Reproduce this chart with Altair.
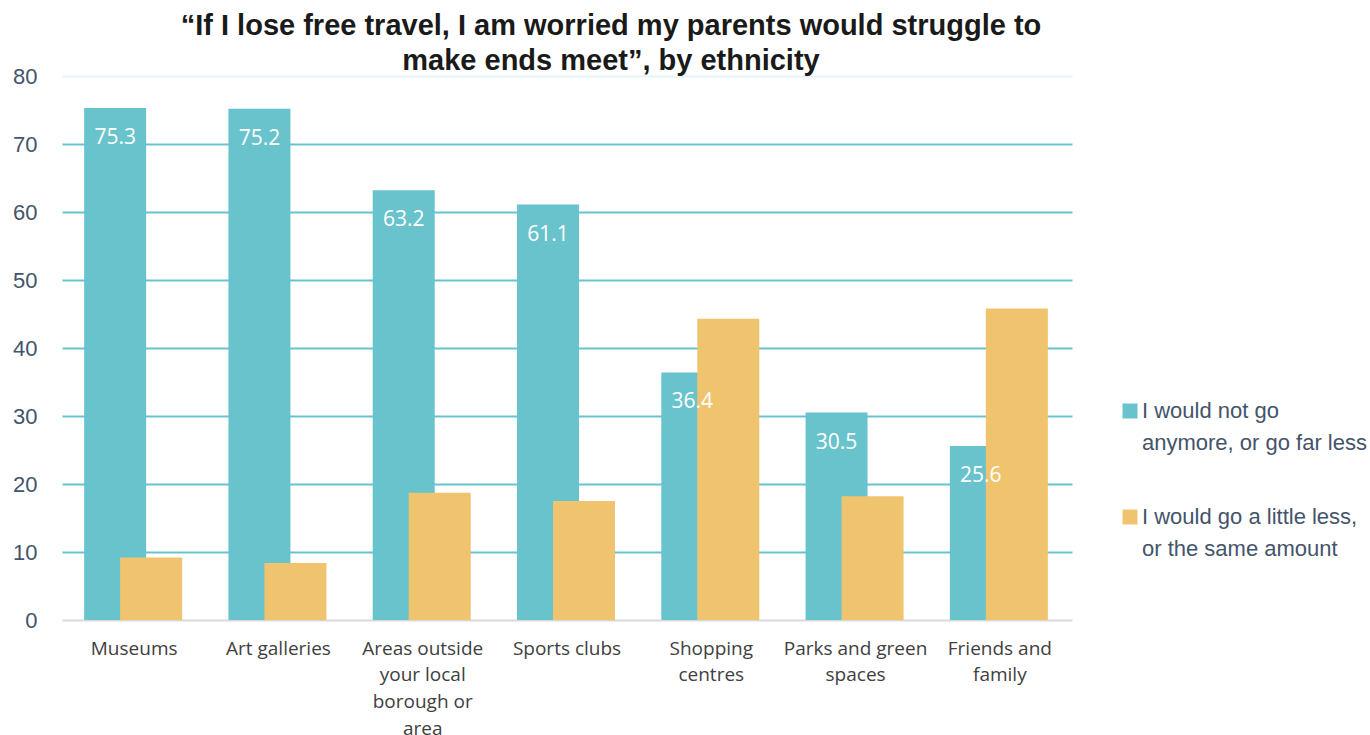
import json
import altair as alt
import pandas as pd

categories = ["Museums", "Art galleries", "Areas outside your local borough or area",
              "Sports clubs", "Shopping centres", "Parks and green spaces", "Friends and family"]
cat_lines = [["Museums"], ["Art galleries"], ["Areas outside", "your local", "borough or", "area"],
             ["Sports clubs"], ["Shopping", "centres"], ["Parks and green", "spaces"], ["Friends and", "family"]]
series = ["I would not go anymore, or go far less", "I would go a little less, or the same amount"]
series_lines = [["I would not go", "anymore, or go far less"], ["I would go a little less,", "or the same amount"]]
not_go = [75.3, 75.2, 63.2, 61.1, 36.4, 30.5, 25.6]
little_less = [9.2, 8.4, 18.7, 17.5, 44.3, 18.2, 45.8]
y_ticks = [0, 10, 20, 30, 40, 50, 60, 70, 80]

rows = []
for c, a, b in zip(categories, not_go, little_less):
    rows.append({"category": c, "series": series[0], "value": a})
    rows.append({"category": c, "series": series[1], "value": b})
df = pd.DataFrame(rows)

teal = "#69c3cc"
orange = "#f0c46f"

xlab = json.dumps(dict(zip(categories, cat_lines)))
leglab = json.dumps(dict(zip(series, series_lines)))

x_enc = alt.X("category:N", sort=categories, title=None,
              scale=alt.Scale(paddingInner=0, paddingOuter=0),
              axis=alt.Axis(labelAngle=0, labelExpr=f"{xlab}[datum.label]", labelFont="Open Sans",
                            labelFontSize=19, labelColor="#404040", labelPadding=28,
                            labelLineHeight=26.7, ticks=False, domain=False, labelBaseline="middle"))
y_enc = alt.Y("value:Q", title=None,
              scale=alt.Scale(domain=[0, 80]),
              axis=alt.Axis(values=y_ticks, labelFont="Liberation Sans", labelFontSize=22,
                            labelColor="#44546a", labelPadding=25, ticks=False, domain=False,
                            gridWidth=2,
                            gridColor=alt.ConditionalAxisColor(
                                condition=[{"test": "datum.value == 0", "value": "#d9d9d9"},
                                           {"test": "datum.value == 80", "value": "#e6f3f5"}],
                                value=teal)))
color_enc = alt.Color("series:N", sort=series, title=None,
                      scale=alt.Scale(domain=series, range=[teal, orange]),
                      legend=alt.Legend(orient="none", legendX=1057, legendY=324,
                                        symbolType="square", symbolSize=225, symbolStrokeWidth=0,
                                        labelExpr=f"{leglab}[datum.label]",
                                        labelFont="Liberation Sans", labelFontSize=22,
                                        labelColor="#44546a", labelLimit=400,
                                        labelBaseline="middle", labelOffset=1,
                                        rowPadding=52, symbolOffset=0))

base = alt.Chart(df)
teal_bars = base.transform_filter(alt.datum.series == series[0]).mark_bar(width=62, xOffset=-19).encode(
    x=x_enc, y=y_enc, color=color_enc)
orange_bars = base.transform_filter(alt.datum.series == series[1]).mark_bar(width=62, xOffset=17).encode(
    x=x_enc, y=y_enc, color=color_enc)
labels = base.transform_filter(alt.datum.series == series[0]).mark_text(
    xOffset=-19, dy=30, color="white", font="Open Sans", fontSize=21, baseline="middle").encode(
    x=x_enc, y=y_enc, text=alt.Text("value:Q", format=".1f"))

chart = alt.layer(teal_bars, orange_bars, labels).properties(
    width=1010, height=544,
    title=alt.TitleParams(
        ["\u201cIf I lose free travel, I am worried my parents would struggle to",
         "make ends meet\u201d, by ethnicity"],
        font="Liberation Sans", fontSize=29, fontWeight="bold", color="#1a1a1a",
        lineHeight=35, anchor="middle", dx=44, offset=-11),
    autosize=alt.AutoSizeParams(type="none"),
    padding={"left": 62, "top": 76, "right": 298, "bottom": 115},
).configure(view=alt.ViewConfig(stroke=None), style={"guide-label": {"lineHeight": 32}})

chart.save("out.html", embed_options={"renderer": "svg", "actions": False})
